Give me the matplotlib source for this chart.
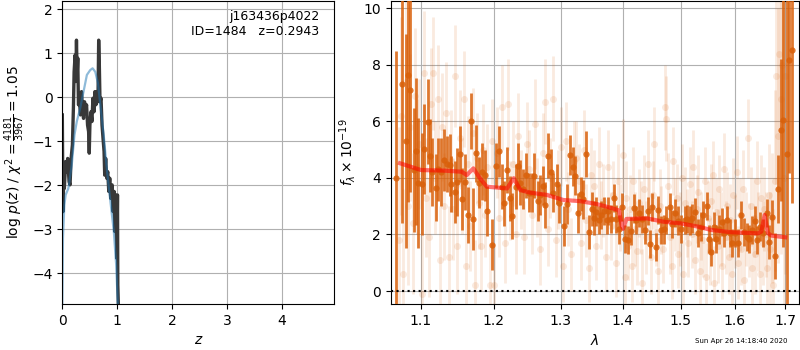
import matplotlib
matplotlib.use('Agg')
import matplotlib.pyplot as plt
from matplotlib.ticker import FixedLocator, FormatStrFormatter, NullLocator

# ---- left panel: p(z)
z_chi2 = [0.0, 0.012, 0.025, 0.037, 0.061, 0.080, 0.098, 0.123, 0.141, 0.160,
          0.184, 0.202, 0.215, 0.233, 0.245, 0.258, 0.270, 0.282, 0.294, 0.313,
          0.331, 0.350, 0.368, 0.387, 0.405, 0.423, 0.442, 0.460, 0.479, 0.491,
          0.503, 0.521, 0.540, 0.558, 0.577, 0.595, 0.613, 0.632, 0.650, 0.663,
          0.675, 0.687, 0.706, 0.724, 0.742, 0.761, 0.773, 0.791, 0.810, 0.828,
          0.847, 0.865, 0.883, 0.908, 0.926, 0.945, 0.957, 0.975, 0.994, 1.006,
          1.012, 1.025]
logp_chi2 = [-0.40, -2.60, -1.84, -2.07, -1.46, -1.69, -1.39, -1.92, -1.99, -1.39,
             -1.08, -0.25, 0.58, 0.96, 0.36, 1.30, 0.51, 0.89, -0.17, -0.10,
             -0.40, 0.13, -0.25, -0.48, -0.10, -0.33, -0.17, -0.63, -0.78, -1.27,
             -0.63, -0.33, -0.55, -0.02, -0.33, 0.13, -0.17, 0.13, -0.10, 1.30,
             0.73, -0.10, -0.02, -0.63, -0.93, -1.23, -1.77, -1.39, -1.84, -1.69,
             -2.14, -1.84, -2.30, -1.99, -2.60, -2.14, -3.05, -2.22, -3.66, -2.22,
             -4.27, -4.87]

z_pz = [0.0, 0.012, 0.037, 0.061, 0.110, 0.172, 0.221, 0.264, 0.325, 0.387,
        0.448, 0.509, 0.552, 0.601, 0.650, 0.693, 0.755, 0.816, 0.877, 0.939,
        0.982, 1.012]
logp_pz = [-4.70, -3.20, -2.45, -2.22, -2.07, -1.54, -0.86, -0.55, -0.25, 0.13,
           0.51, 0.62, 0.66, 0.58, 0.32, -0.17, -0.86, -1.69, -2.37, -3.05,
           -3.81, -4.70]

# ---- right panel: spectrum (dark = binned, faint = individual)
lam = [1.068, 1.0757, 1.0800, 1.0825, 1.0860, 1.0903, 1.0938, 1.0964, 1.1017, 1.1043,
       1.1087, 1.1114, 1.1140, 1.1194, 1.1230, 1.1266, 1.1301, 1.1347, 1.1382, 1.1409,
       1.1456, 1.1491, 1.1528, 1.1556, 1.1601, 1.1638, 1.1684, 1.1712, 1.1750, 1.1796,
       1.1834, 1.1872, 1.1909, 1.1976, 1.2039, 1.2078, 1.2115, 1.2154, 1.2193, 1.2231,
       1.2270, 1.2319, 1.2348, 1.2388, 1.2427, 1.2476, 1.2516, 1.2555, 1.2595, 1.2645,
       1.2685, 1.2725, 1.2765, 1.2806, 1.2847, 1.2887, 1.2939, 1.2979, 1.3051, 1.3103,
       1.3145, 1.3187, 1.3228, 1.3270, 1.3323, 1.3355, 1.3398, 1.3451, 1.3494, 1.3526,
       1.3559, 1.3601, 1.3644, 1.3687, 1.3731, 1.3763, 1.3806, 1.3850, 1.3894, 1.3937,
       1.3995, 1.4040, 1.4096, 1.4141, 1.4185, 1.4231, 1.4276, 1.4333, 1.4379, 1.4424,
       1.4470, 1.4505, 1.4562, 1.4608, 1.4655, 1.4701, 1.4748, 1.4807, 1.4854, 1.4902,
       1.4949, 1.5009, 1.5072, 1.5120, 1.5169, 1.5216, 1.5253, 1.5314, 1.5375, 1.5412,
       1.5473, 1.5510, 1.5559, 1.5609, 1.5658, 1.5708, 1.5758, 1.5808, 1.5858, 1.5909,
       1.5959, 1.6010, 1.6065, 1.6129, 1.6181, 1.6232, 1.6284, 1.6337, 1.6389, 1.6441,
       1.6494, 1.6546, 1.6625, 1.6679, 1.6733, 1.6786, 1.6854, 1.6907, 1.6948, 1.7030,
       1.7085, 1.7140]
flux = [4.00, 7.31, 5.31, 7.64, 7.11, 4.28, 4.95, 3.83, 3.79, 5.02,
        5.99, 4.79, 4.22, 3.66, 4.30, 4.22, 4.63, 4.49, 4.45, 3.79,
        3.51, 3.87, 4.85, 3.25, 3.86, 2.69, 6.01, 2.55, 4.87, 3.83,
        4.22, 4.10, 2.83, 1.63, 4.43, 4.95, 3.69, 3.10, 4.28, 3.28,
        2.65, 3.69, 4.43, 3.83, 3.60, 4.10, 3.48, 3.48, 4.08, 3.18,
        3.40, 3.73, 3.04, 4.79, 4.22, 3.48, 3.79, 3.10, 2.30, 3.08,
        4.81, 4.40, 4.08, 2.75, 3.42, 3.24, 4.85, 2.10, 2.89, 2.57,
        2.81, 2.51, 2.69, 2.84, 2.51, 2.84, 2.55, 3.28, 2.55, 2.18,
        2.96, 1.84, 1.80, 2.12, 2.92, 2.51, 2.75, 2.54, 2.16, 2.84,
        1.66, 2.96, 1.57, 2.87, 2.16, 2.18, 2.51, 2.98, 2.37, 2.75,
        2.49, 2.19, 2.51, 2.56, 2.49, 2.57, 2.79, 2.04, 2.28, 2.69,
        3.02, 1.83, 1.38, 2.28, 1.83, 2.18, 2.45, 2.04, 2.51, 2.06,
        1.71, 2.04, 1.71, 2.69, 2.10, 1.90, 1.83, 2.16, 2.49, 1.80,
        2.28, 2.04, 2.77, 1.75, 2.61, 1.24, 3.60, 5.70, 6.05, 4.83,
        8.17, 8.53]
err = [4.5, 4.9, 3.8, 4.5, 3.6, 2.2, 2.6, 2.3, 1.8, 1.6,
       1.5, 1.3, 1.2, 1.2, 1.1, 1.2, 1.1, 1.0, 1.1, 1.0,
       1.1, 1.2, 1.0, 1.1, 1.0, 1.0, 1.0, 1.1, 1.0, 0.9,
       1.0, 0.9, 0.9, 0.9, 0.8, 0.9, 0.8, 0.8, 0.8, 0.8,
       0.8, 0.8, 0.8, 0.8, 0.7, 0.8, 0.7, 0.7, 0.8, 0.7,
       0.7, 0.7, 0.8, 0.8, 0.8, 0.7, 0.7, 0.7, 0.7, 0.7,
       0.7, 0.7, 0.7, 0.7, 0.6, 0.7, 0.8, 0.6, 0.6, 0.6,
       0.5, 0.5, 0.5, 0.5, 0.5, 0.5, 0.5, 0.5, 0.5, 0.5,
       0.5, 0.5, 0.5, 0.5, 0.5, 0.5, 0.5, 0.5, 0.5, 0.5,
       0.5, 0.5, 0.5, 0.5, 0.5, 0.5, 0.5, 0.5, 0.5, 0.5,
       0.5, 0.5, 0.5, 0.5, 0.5, 0.5, 0.5, 0.5, 0.5, 0.5,
       0.5, 0.5, 0.5, 0.5, 0.5, 0.5, 0.5, 0.5, 0.5, 0.5,
       0.5, 0.5, 0.5, 0.5, 0.5, 0.5, 0.5, 0.5, 0.5, 0.5,
       0.5, 0.5, 0.5, 0.6, 0.6, 0.8, 1.2, 2.5, 4.5, 5.5,
       4.0, 5.4]

lam_faint = [1.071, 1.074, 1.077, 1.080, 1.083, 1.086, 1.089, 1.092, 1.095, 1.098,
             1.101, 1.104, 1.107, 1.110, 1.113, 1.116, 1.119, 1.122, 1.125, 1.128,
             1.131, 1.134, 1.137, 1.140, 1.143, 1.146, 1.149, 1.152, 1.155, 1.158,
             1.161, 1.164, 1.167, 1.170, 1.173, 1.176, 1.179, 1.182, 1.185, 1.188,
             1.191, 1.194, 1.197,
             1.200, 1.204, 1.208, 1.212, 1.216, 1.220, 1.224, 1.228, 1.232, 1.236,
             1.240, 1.244, 1.248, 1.252, 1.256, 1.260, 1.264, 1.268, 1.272, 1.276,
             1.280, 1.284, 1.288, 1.292, 1.296, 1.300, 1.304, 1.308, 1.312, 1.316,
             1.320, 1.324, 1.328, 1.332, 1.336, 1.340, 1.344, 1.348, 1.352, 1.356,
             1.360, 1.364, 1.368, 1.372, 1.376, 1.380, 1.384, 1.388, 1.392, 1.396,
             1.400, 1.403, 1.406, 1.409, 1.412, 1.415, 1.418, 1.421, 1.424, 1.427,
             1.430, 1.433, 1.436, 1.439, 1.442, 1.445, 1.448, 1.451, 1.454, 1.457,
             1.460, 1.463, 1.466, 1.469, 1.472, 1.475, 1.478, 1.481, 1.484, 1.487,
             1.490, 1.493, 1.496, 1.499, 1.502, 1.505, 1.508, 1.511, 1.514, 1.517,
             1.520, 1.523, 1.526, 1.529, 1.532, 1.535, 1.538, 1.541, 1.544, 1.547,
             1.550, 1.553, 1.556, 1.559, 1.562, 1.565, 1.568, 1.571, 1.574, 1.577,
             1.580, 1.583, 1.586, 1.589, 1.592, 1.595, 1.598, 1.601, 1.604, 1.607,
             1.610, 1.613, 1.616, 1.619, 1.622, 1.625, 1.628, 1.631, 1.634, 1.637,
             1.640, 1.643, 1.646, 1.649, 1.652, 1.655, 1.658,
             1.661, 1.664, 1.667, 1.670, 1.673, 1.676, 1.679, 1.682, 1.685, 1.688,
             1.691, 1.694, 1.697, 1.700]
flux_faint = [1.8, 6.2, 0.6, 7.4, 3.0, 5.8, 2.4, 6.9, 4.4, 5.2,
              -0.1, 7.7, 3.3, 1.9, 6.6, 7.7, 4.0, 6.8, 1.1, 5.8,
              3.0, 6.3, 1.2, 4.6, 2.9, 7.6, 1.6, 5.4, 3.7, 6.8,
              0.9, 4.5, 2.3, 5.6, 0.2, 4.7, 3.1, 1.6, 5.0, 2.7,
              4.4, 0.2, 5.3,
              0.2, 4.9, 2.6, 6.5, 1.7, 6.6, 3.2, 4.5, 2.0, 5.5,
              3.6, 1.9, 5.2, 4.3, 2.7, 5.9, 3.3, 1.5, 4.9, 6.7,
              2.2, 4.0, 6.8, 1.8, 3.6, 5.1, 0.9, 5.3, 2.9, 1.3,
              4.6, 4.7, 3.9, 1.7, 5.0, 2.5, 0.8, 4.1, 3.7, 1.6,
              4.5, 2.7, 3.2, 1.2, 4.4, 2.3, 3.4, 1.0, 3.9, 2.6,
              4.8, 0.5, 3.3, 1.6, 2.9, 0.9, 3.9, 2.2, 1.4, 3.1,
              2.6, 0.3, 3.6, 1.9, 4.5, 2.8, 1.2, 3.4, 5.2, 2.1,
              0.7, 3.0, 2.5, 1.5, 6.5, 6.1, 3.7, 1.9, 0.9, 4.6,
              2.7, 3.3, 1.3, 2.2, 4.0, 0.6, 3.1, 2.4, 1.7, 3.8,
              2.0, 4.4, 1.1, 2.9, 3.5, 0.7, 2.3, 1.8, 3.9, 0.5,
              2.6, 1.4, 3.2, 4.1, 0.3, 2.8, 1.6, 3.6, 2.2, 0.9,
              4.3, 1.9, 3.0, 1.2, 2.5, 0.6, 3.4, 2.1, 4.2, 1.0,
              2.7, 1.5, 3.6, 0.4, 2.2, 5.4, 1.8, 3.0, 0.8, 2.6,
              1.3, 3.9, 2.1, 0.6, 3.3, 1.7, 2.9,
              2.0, 0.8, 3.4, 1.5, 2.6, 0.2, 3.9, 7.6, 5.5, 8.4,
              6.8, 8.0, 4.0, 7.6]
err_faint = [4.0, 3.5, 3.0, 3.0, 2.8, 2.6, 2.5, 2.4, 2.4, 2.3,
             2.2, 2.2, 2.1, 2.1, 2.0, 2.0, 2.0, 1.9, 1.9, 1.9,
             1.9, 1.8, 1.8, 1.8, 1.8, 1.8, 1.7, 1.7, 1.7, 1.7,
             1.7, 1.7, 1.6, 1.6, 1.6, 1.6, 1.6, 1.6, 1.6, 1.5,
             1.5, 1.5, 1.5,
             1.5, 1.6, 1.4, 1.5, 1.4, 1.6, 1.4, 1.5, 1.4, 1.5,
             1.4, 1.3, 1.5, 1.4, 1.4, 1.6, 1.4, 1.3, 1.4, 1.5,
             1.3, 1.4, 1.5, 1.3, 1.4, 1.4, 1.3, 1.4, 1.3, 1.3,
             1.4, 1.3, 1.3, 1.3, 1.4, 1.3, 1.2, 1.3, 1.3, 1.2,
             1.3, 1.2, 1.3, 1.2, 1.3, 1.2, 1.2, 1.2, 1.3, 1.2,
             1.3, 1.2, 1.3, 1.2, 1.2, 1.3, 1.2, 1.3, 1.2, 1.2,
             1.3, 1.2, 1.2, 1.3, 1.2, 1.2, 1.3, 1.2, 1.3, 1.2,
             1.2, 1.3, 1.2, 1.2, 1.5, 1.5, 1.2, 1.3, 1.2, 1.2,
             1.3, 1.2, 1.2, 1.3, 1.2, 1.2, 1.3, 1.2, 1.2, 1.3,
             1.2, 1.3, 1.2, 1.2, 1.3, 1.2, 1.2, 1.3, 1.2, 1.2,
             1.3, 1.2, 1.3, 1.2, 1.3, 1.2, 1.3, 1.2, 1.3, 1.2,
             1.3, 1.3, 1.2, 1.3, 1.3, 1.2, 1.3, 1.3, 1.3, 1.3,
             1.3, 1.3, 1.4, 1.3, 1.3, 1.4, 1.3, 1.4, 1.3, 1.4,
             1.4, 1.4, 1.4, 1.4, 1.5, 1.5, 1.5,
             1.5, 1.6, 1.8, 2.0, 2.3, 2.7, 3.2, 3.8, 4.5, 5.0,
             5.5, 6.0, 6.5, 7.0]

lam_model = [1.0728, 1.100, 1.130, 1.155, 1.1619, 1.1711, 1.180, 1.190, 1.2193, 1.2289,
             1.2388, 1.2536, 1.2786, 1.3041, 1.3302, 1.3567, 1.3839, 1.3937, 1.3985, 1.4005,
             1.4060, 1.4413, 1.4701, 1.5012, 1.5314, 1.5559, 1.5934, 1.6455, 1.6520, 1.6586,
             1.6650, 1.6719, 1.7000]
flux_model = [4.52, 4.28, 4.26, 4.22, 4.10, 4.34, 4.00, 3.69, 3.63, 3.99,
              3.57, 3.48, 3.40, 3.22, 3.18, 3.08, 2.92, 2.85, 2.30, 2.20,
              2.55, 2.57, 2.45, 2.39, 2.28, 2.16, 2.08, 2.04, 2.10, 2.69,
              2.05, 1.96, 1.90]

wave_ticks = [1.1, 1.2, 1.3, 1.4, 1.5, 1.6, 1.7]

root = 'j163436p4022'
obj_id = 1484
z_best = 0.2943
chi2_num, chi2_den = 4181, 3967
stamp = 'Sun Apr 26 14:18:40 2020'

orange = '#d9600a'

fig = plt.figure(figsize=(8, 3.5))
ax1 = fig.add_axes([0.0779, 0.1314, 0.3400, 0.8657])
ax2 = fig.add_axes([0.4884, 0.1314, 0.5109, 0.8657])

# p(z)
ax1.plot(z_chi2, logp_chi2, color='0.22', lw=2.4)
ax1.plot(z_pz, logp_pz, color='tab:blue', alpha=0.5, lw=1.6)
ax1.set_xlim(0, 4.96)
ax1.set_ylim(-4.70, 2.19)
ax1.grid()
ax1.set_xlabel('$z$')
ax1.set_ylabel(r'log $p(z)$ / $\chi^2=\frac{%d}{%d}=%.2f$'
               % (chi2_num, chi2_den, chi2_num / chi2_den))
ax1.text(0.945, 0.97, '%s\nID=%d   z=%.4f' % (root, obj_id, z_best),
         transform=ax1.transAxes, ha='right', va='top', fontsize=9)

# spectrum
ax2.errorbar(lam_faint, flux_faint, yerr=err_faint, fmt='o', color=orange,
             ms=5, mec='none', elinewidth=2, alpha=0.13, zorder=2)
ax2.errorbar(lam, flux, yerr=err, fmt='o', color=orange, ms=4.5, mec='none',
             elinewidth=2, alpha=0.85, zorder=3)
ax2.plot(lam_model, flux_model, color='r', lw=3, alpha=0.55, zorder=4)
ax2.axhline(0, color='k', ls=':', lw=1.5, zorder=5)

ax2.set_xscale('log')
ax2.set_xlim(1.061, 1.729)
ax2.set_ylim(-0.46, 10.26)
ax2.xaxis.set_major_locator(FixedLocator(wave_ticks))
ax2.xaxis.set_major_formatter(FormatStrFormatter('%.1f'))
ax2.xaxis.set_minor_locator(NullLocator())
ax2.grid()
ax2.set_xlabel(r'$\lambda$')
ax2.set_ylabel(r'$f_\lambda\times10^{-19}$')

fig.text(0.984, 0.027, stamp, ha='right', va='center', fontsize=5)

fig.savefig('out.png', dpi=100)
